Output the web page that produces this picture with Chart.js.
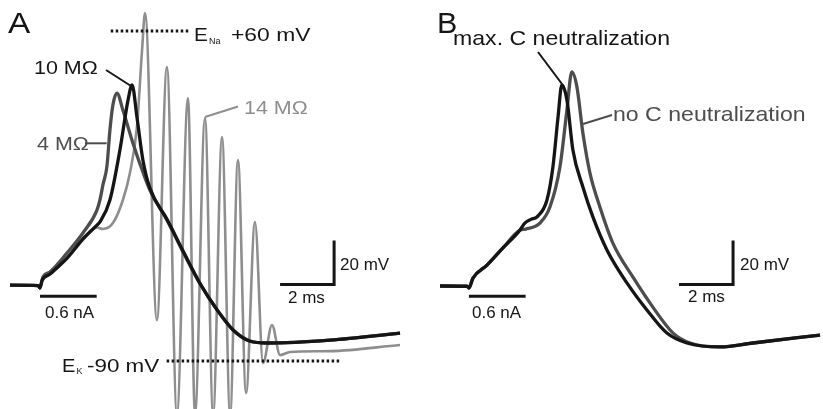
<!DOCTYPE html>
<html>
<head>
<meta charset="utf-8">
<script src="https://cdn.jsdelivr.net/npm/chart.js@4.4.0/dist/chart.umd.min.js"></script>
<style>
  html, body { margin: 0; padding: 0; background: #fff; }
  #wrap { position: relative; width: 823px; height: 409px; overflow: hidden; }
  canvas { position: absolute; top: 0; }
  #chartA { left: 0; }
  #chartB { left: 413px; }
</style>
</head>
<body>
<div id="wrap">
  <canvas id="chartA" width="410" height="409"></canvas>
  <canvas id="chartB" width="410" height="409"></canvas>
</div>
<script>
// time in ms from current onset, membrane potential in mV

// --- panel A: three electrode resistances ---
const a10Time = [-1.11, -0.07, 0, 0.07, 0.37, 1.0, 1.59, 2.11, 2.22, 2.59, 2.96, 3.26, 3.41, 3.59, 3.81, 4.07, 4.70, 5.30, 5.93, 6.56, 7.15, 7.78, 8.41, 10.74, 13.33];
const a10Mv   = [-55.5, -55.7, -56.8, -53.6, -50.5, -43.2, -34.5, -28.2, -26.8, -16.8, 5.9, 28.6, 35.5, 20.9, 1.4, -11.4, -25.5, -40.0, -54.8, -66.8, -75.9, -81.0, -81.8, -80.5, -77.3];

const a4Time = [-1.11, -0.07, 0, 0.11, 0.37, 1.0, 1.59, 2.11, 2.22, 2.33, 2.48, 2.59, 2.70, 2.85, 3.07, 3.44, 3.81, 4.07, 4.70, 5.30, 5.93, 6.56, 7.15, 7.78, 8.41, 10.74, 13.33];
const a4Mv   = [-55.5, -55.7, -56.8, -51.8, -49.5, -40.9, -31.8, -21.4, -16.8, -10.0, -1.4, 15.0, 26.4, 31.8, 24.1, 9.1, -4.1, -12.3, -25.9, -40.5, -55.0, -66.8, -75.9, -80.9, -81.8, -80.5, -77.3];

const a14Time = [-1.11, -0.07, 0, 0.07, 0.37, 1.0, 1.59, 2.11, 2.33, 2.70, 3.07, 3.33, 3.59, 3.78, 3.89, 4.33, 4.70, 5.07, 5.48, 5.74, 6.11, 6.41, 6.74, 7.04, 7.33, 7.63, 7.96, 8.26, 8.59, 8.89, 9.26, 10.74, 13.33];
const a14Mv   = [-55.5, -55.7, -56.8, -53.6, -50.5, -43.6, -35.0, -29.3, -30.0, -27.3, -16.8, -4.5, 16.4, 51.4, 68.2, -71.4, 43.6, -114, 29.5, -114, 20.5, -114, 11.8, -114, 1.4, -104.5, -26.8, -90.9, -73.6, -87.3, -85.9, -85.5, -82.7];

// --- panel B: capacitance neutralization ---
const bMaxTime = [-1.07, -0.07, 0, 0.15, 0.67, 1.26, 1.89, 2.07, 2.30, 2.52, 2.89, 3.11, 3.30, 3.44, 3.63, 3.85, 4.22, 4.59, 5.11, 5.85, 6.59, 7.33, 8.07, 9.30, 10.52, 13.0];
const bMaxMv   = [-55.9, -56.0, -56.8, -52.3, -46.4, -38.6, -30.5, -27.3, -25.6, -24.5, -16.8, -1.8, 20.9, 35.5, 28.6, 5.9, -10.9, -24.5, -39.5, -54.5, -66.8, -77.3, -81.8, -83.6, -81.8, -78.2];

const bNoTime = [-1.07, -0.07, 0, 0.15, 0.67, 1.26, 1.89, 2.11, 2.63, 3.0, 3.37, 3.63, 3.81, 4.0, 4.22, 4.48, 4.85, 5.33, 6.07, 6.81, 7.56, 8.19, 9.30, 10.52, 13.0];
const bNoMv   = [-55.9, -56.0, -56.8, -52.3, -46.4, -38.6, -30.5, -30.0, -27.3, -20.0, -1.8, 24.1, 41.4, 34.5, 13.6, -4.5, -20.0, -36.4, -51.8, -65.5, -77.3, -81.8, -83.6, -81.8, -78.2];

// reversal potentials, scale bars, current step
const eNa = 60;
const eK = -90;
const eNaSpan = [2.62, 5.56];
const eKSpan = [4.69, 11.11];
const scaleMs = 2;
const scaleMv = 20;
const scaleOriginA = [8.89, -55.2];
const scaleOriginB = [7.78, -55.2];
const stepMs = 2.1;
const stepLevel = -60.5;

const FONT = '"Liberation Sans", Arial, sans-serif';
const BLACK = '#151515';
const DARK = '#4d4d4d';
const LIGHT = '#8e8e8e';

function toXY(ts, vs) {
    return ts.map((t, i) => ({ x: t, y: vs[i] }));
}

function trace(ts, vs, color, width, order) {
    return {
        data: toXY(ts, vs),
        borderColor: color,
        borderWidth: width,
        cubicInterpolationMode: 'monotone',
        pointRadius: 0,
        fill: false,
        order: order
    };
}

function straight(points, dash, order) {
    return {
        data: points.map(p => ({ x: p[0], y: p[1] })),
        borderColor: BLACK,
        borderWidth: 3,
        borderDash: dash || [],
        borderCapStyle: 'butt',
        pointRadius: 0,
        tension: 0,
        fill: false,
        order: order
    };
}

function scaleBar(origin) {
    const [t0, v0] = origin;
    return straight([[t0, v0], [t0 + scaleMs, v0], [t0 + scaleMs, v0 + scaleMv]], null, 0);
}

function notesPlugin(texts, leaders, left) {
    return {
        id: 'notes',
        afterDatasetsDraw(chart) {
            const ctx = chart.ctx;
            ctx.save();
            leaders.forEach(l => {
                ctx.strokeStyle = l.color;
                ctx.lineWidth = 2;
                ctx.beginPath();
                ctx.moveTo(l.from[0] - left, l.from[1]);
                ctx.lineTo(l.to[0] - left, l.to[1]);
                ctx.stroke();
            });
            texts.forEach(n => {
                ctx.save();
                ctx.translate(n.x - left, n.y);
                ctx.scale(n.sx || 1, 1);
                ctx.font = n.size + 'px ' + FONT;
                ctx.fillStyle = n.color || BLACK;
                ctx.textBaseline = 'alphabetic';
                ctx.textAlign = 'left';
                ctx.fillText(n.text, 0, 0);
                ctx.restore();
            });
            ctx.restore();
        }
    };
}

function makeChart(id, xMin, xMax, datasets, plugin) {
    return new Chart(document.getElementById(id), {
        type: 'line',
        data: { datasets: datasets },
        options: {
            responsive: false,
            animation: false,
            layout: { padding: 0 },
            plugins: { legend: { display: false }, tooltip: { enabled: false } },
            scales: {
                x: { type: 'linear', display: false, min: xMin, max: xMax },
                y: { type: 'linear', display: false, min: -111.8, max: 74.1 }
            }
        },
        plugins: [plugin]
    });
}

// --- Panel A ---
makeChart('chartA', -1.48, 13.70, [
    trace(a10Time, a10Mv, BLACK, 3.3, 1),
    trace(a4Time, a4Mv, DARK, 3.3, 2),
    trace(a14Time, a14Mv, LIGHT, 2.6, 3),
    straight([[eNaSpan[0], eNa], [eNaSpan[1], eNa]], [2.5, 2.5], 0),
    straight([[eKSpan[0], eK], [eKSpan[1], eK]], [2.5, 2.5], 0),
    scaleBar(scaleOriginA),
    straight([[0, stepLevel], [stepMs, stepLevel]], null, 0)
], notesPlugin([
    { text: 'A', x: 8, y: 33, size: 29, sx: 1.15 },
    { text: 'E', x: 194, y: 41, size: 18, sx: 1.15 },
    { text: 'Na', x: 209, y: 44, size: 9 },
    { text: '+60 mV', x: 231, y: 41, size: 18, sx: 1.27 },
    { text: '10 MΩ', x: 34, y: 73.5, size: 19, sx: 1.13 },
    { text: '4 MΩ', x: 37, y: 149.5, size: 19, sx: 1.13, color: DARK },
    { text: '14 MΩ', x: 244, y: 113.5, size: 19, sx: 1.13, color: LIGHT },
    { text: '20 mV', x: 340, y: 270, size: 17 },
    { text: '2 ms', x: 288, y: 303, size: 17 },
    { text: '0.6 nA', x: 45, y: 318, size: 17 },
    { text: 'E', x: 62, y: 372, size: 17.5, sx: 1.15 },
    { text: 'K', x: 76.5, y: 374, size: 9 },
    { text: '-90 mV', x: 87, y: 372, size: 17.5, sx: 1.28 }
], [
    { from: [106, 70], to: [131, 86], color: BLACK },
    { from: [85, 143.3], to: [106.7, 143.3], color: DARK },
    { from: [238, 106.5], to: [205, 117], color: LIGHT }
], 0));

// --- Panel B ---
makeChart('chartB', -2.07, 13.11, [
    trace(bMaxTime, bMaxMv, BLACK, 3.3, 1),
    trace(bNoTime, bNoMv, DARK, 3.3, 2),
    scaleBar(scaleOriginB),
    straight([[0, stepLevel], [stepMs, stepLevel]], null, 0)
], notesPlugin([
    { text: 'B', x: 437, y: 33, size: 29, sx: 1.05 },
    { text: 'max. C neutralization', x: 453, y: 44.5, size: 21, sx: 1.1 },
    { text: 'no C neutralization', x: 613, y: 121, size: 21, sx: 1.1, color: DARK },
    { text: '20 mV', x: 740, y: 270, size: 17 },
    { text: '2 ms', x: 688, y: 302, size: 17 },
    { text: '0.6 nA', x: 472, y: 318, size: 17 }
], [
    { from: [538, 52], to: [562, 84], color: BLACK },
    { from: [612, 115], to: [583, 124], color: DARK }
], 413));
</script>
</body>
</html>
